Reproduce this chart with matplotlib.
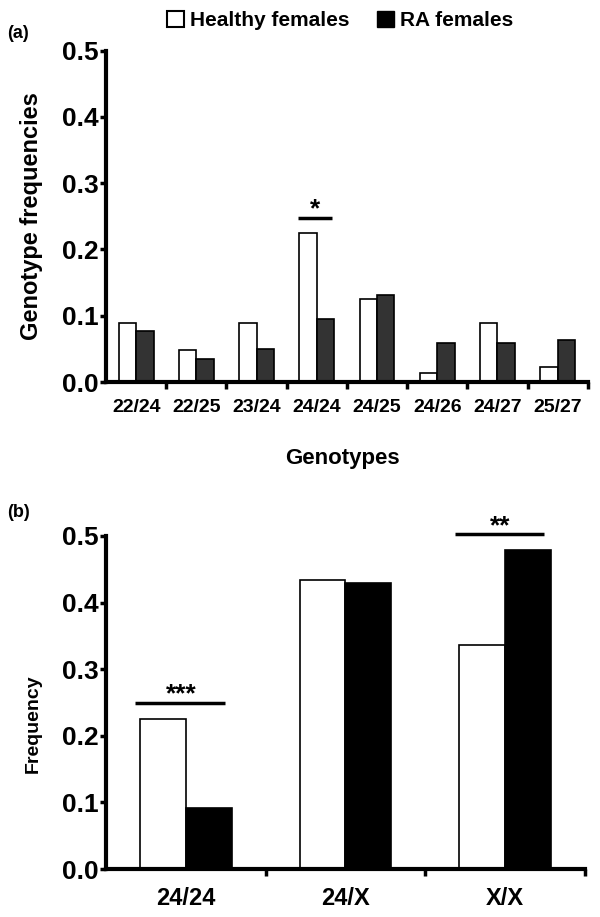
import numpy as np
import matplotlib
matplotlib.use("Agg")
import matplotlib.pyplot as plt
from matplotlib.patches import Patch

plt.rcParams["font.family"] = ["Liberation Sans", "DejaVu Sans"]
plt.rcParams["font.weight"] = "bold"

# panel (a) data
genotypes = ["22/24", "22/25", "23/24", "24/24", "24/25", "24/26", "24/27", "25/27"]
healthy_a = [0.089, 0.049, 0.089, 0.225, 0.126, 0.013, 0.089, 0.023]
ra_a = [0.077, 0.035, 0.050, 0.095, 0.131, 0.059, 0.059, 0.063]

# panel (b) data
groups_b = ["24/24", "24/X", "X/X"]
healthy_b = [0.226, 0.434, 0.337]
ra_b = [0.091, 0.429, 0.479]

# significance marks: (category index, line height, label)
sig_a = [(3, 0.248, "*")]
sig_b = [(0, 0.250, "***"), (2, 0.503, "**")]


def style_axis(ax, n):
    for s in ["top", "right"]:
        ax.spines[s].set_visible(False)
    for s in ["left", "bottom"]:
        ax.spines[s].set_linewidth(3)
        ax.spines[s].set_capstyle("projecting")
    ax.set_xlim(-0.5, n - 0.5)
    ax.set_ylim(0, 0.5)
    ticks = np.arange(0, 0.51, 0.1)
    ax.set_yticks(ticks)
    ax.set_yticklabels([f"{v:.1f}" for v in ticks])
    ax.set_xticks(np.arange(n))
    ax.set_xticks(np.arange(0.5, n, 1.0), minor=True)
    ax.tick_params(axis="x", which="major", length=0)
    ax.tick_params(axis="x", which="minor", length=5, width=2.5, direction="out")
    ax.tick_params(axis="y", length=4, width=2.5, direction="out", pad=1, labelsize=19)
    for lab in ax.get_yticklabels():
        lab.set_fontweight("bold")


def add_sig(ax, marks, w):
    for i, h, t in marks:
        ax.plot([i - 1.1 * w, i + 0.85 * w], [h, h], color="black", linewidth=2.5,
                solid_capstyle="butt", clip_on=False)
        ax.text(i - 0.1 * w, h - 0.006, t, ha="center", va="bottom", fontsize=19,
                fontweight="bold")


fig = plt.figure(figsize=(6, 9.17), dpi=100)

# ---- panel (a)
ax1 = fig.add_axes([0.1767, 0.5834, 0.803, 0.3613])
x = np.arange(len(genotypes))
w = 0.29
ax1.bar(x - w / 2, healthy_a, w, color="white", edgecolor="black", linewidth=1.2)
ax1.bar(x + w / 2, ra_a, w, color="#333333", edgecolor="black", linewidth=1.2)
style_axis(ax1, len(genotypes))
ax1.set_xticklabels(genotypes, fontsize=14, fontweight="bold")
ax1.tick_params(axis="x", which="major", pad=12)
ax1.set_ylabel("Genotype frequencies", fontsize=17, fontweight="bold")
ax1.yaxis.set_label_coords(-0.131, 0.5)
ax1.set_xlabel("Genotypes", fontsize=16, fontweight="bold")
ax1.xaxis.set_label_coords(0.49, -0.2)
add_sig(ax1, sig_a, w)

# ---- panel (b)
ax2 = fig.add_axes([0.1767, 0.0523, 0.798, 0.3632])
xb = np.arange(len(groups_b))
wb = 0.287
ax2.bar(xb - wb / 2, healthy_b, wb, color="white", edgecolor="black", linewidth=1.2)
ax2.bar(xb + wb / 2, ra_b, wb, color="black", edgecolor="black", linewidth=1.2)
style_axis(ax2, len(groups_b))
ax2.set_xticklabels(groups_b, fontsize=17, fontweight="bold")
ax2.tick_params(axis="x", which="major", pad=13)
ax2.set_ylabel("Frequency", fontsize=14, fontweight="bold")
ax2.yaxis.set_label_coords(-0.134, 0.435)
add_sig(ax2, sig_b, wb)

# panel letters
fig.text(0.012, 0.964, "(a)", fontsize=13, fontweight="bold", va="center")
fig.text(0.012, 0.441, "(b)", fontsize=13, fontweight="bold", va="center")

# legend
handles = [Patch(facecolor="white", edgecolor="black", linewidth=1.5, label="Healthy females"),
           Patch(facecolor="black", edgecolor="black", label="RA females")]
fig.legend(handles=handles, loc="center", bbox_to_anchor=(0.567, 0.978), ncol=2,
           frameon=False, prop={"size": 15, "weight": "bold"},
           handlelength=0.82, handleheight=0.82, handletextpad=0.3, columnspacing=1.3)

fig.savefig("out.png", dpi=100)
